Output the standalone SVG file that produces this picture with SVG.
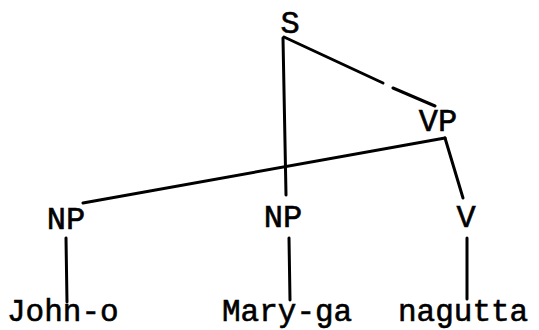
<svg xmlns="http://www.w3.org/2000/svg" width="539" height="330" viewBox="0 0 539 330">
<style>
.t{font-family:"Liberation Mono","Courier New",monospace;font-size:32px;fill:#000;stroke:#000;stroke-width:0.6}
.b{font-size:31px}
.l{stroke:#000;stroke-width:3;fill:none;stroke-linecap:round}
</style>
<rect width="539" height="330" fill="#fff"/>
<g id="connectors">
<path class="l" d="M283,38 L286,195"/>
<path class="l" d="M284,37 L383,83"/>
<path class="l" d="M393,88 L435,106"/>
<path class="l" d="M445,138 L83,203"/>
<path class="l" d="M445,138 L463,198"/>
<path class="l" d="M66,238 L67,302"/>
<path class="l" d="M289,238 L290,300"/>
<path class="l" d="M467,238 L467,299"/>
</g>
<g id="S"><text class="t" x="290" y="33" text-anchor="middle">S</text></g>
<g id="VP"><text class="t" x="438" y="131" text-anchor="middle">VP</text></g>
<g id="NP1"><text class="t" x="66" y="229" text-anchor="middle">NP</text></g>
<g id="NP2"><text class="t" x="283" y="227" text-anchor="middle">NP</text></g>
<g id="V"><text class="t" x="466" y="227" text-anchor="middle">V</text></g>
<g id="John-o"><text class="t b" x="7" y="321">John-o</text></g>
<g id="Mary-ga"><text class="t b" x="222" y="321">Mary-ga</text></g>
<g id="nagutta"><text class="t b" x="398" y="321">nagutta</text></g>
</svg>
